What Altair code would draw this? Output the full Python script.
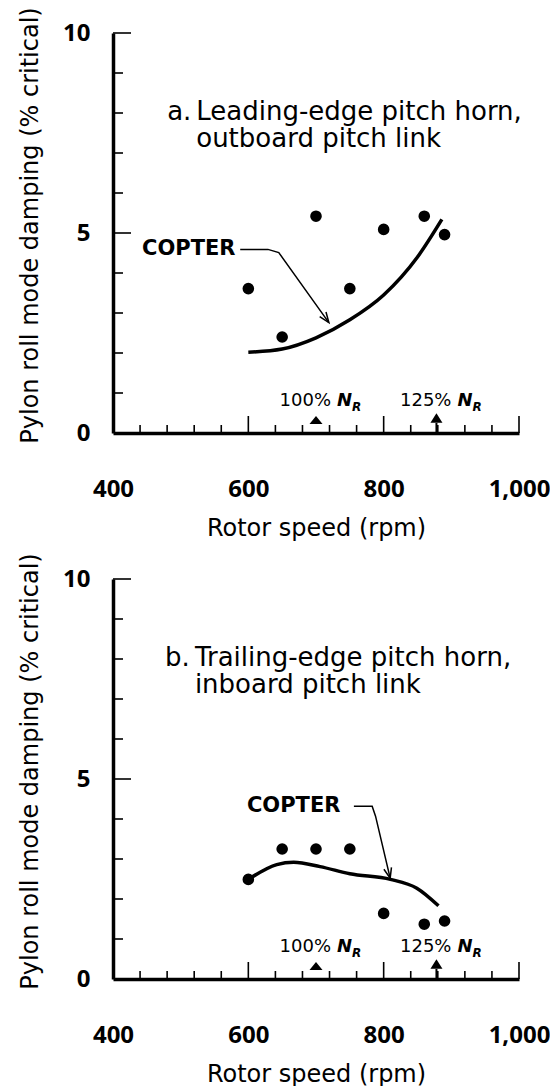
import altair as alt
import pandas as pd

# ---------------- data ----------------
# panel a: leading-edge pitch horn, outboard pitch link
test_a_rpm = [600, 650, 700, 750, 800, 860, 890]
test_a_damp = [3.61, 2.40, 5.42, 3.61, 5.09, 5.42, 4.96]
copter_a_rpm = [600, 650, 700, 750, 800, 850, 886]
copter_a_damp = [2.02, 2.10, 2.38, 2.83, 3.45, 4.40, 5.34]

# panel b: trailing-edge pitch horn, inboard pitch link
test_b_rpm = [600, 650, 700, 750, 800, 860, 890]
test_b_damp = [2.49, 3.25, 3.25, 3.25, 1.64, 1.37, 1.45]
copter_b_rpm = [600, 642, 667, 706, 750, 810, 849, 881]
copter_b_damp = [2.49, 2.86, 2.92, 2.81, 2.63, 2.49, 2.27, 1.83]

# axes
x_label_values = [400, 600, 800, 1000]
y_label_values = [0, 5, 10]
x_ticks_minor = [440, 480, 520, 560, 640, 680, 720, 760, 840, 880, 920, 960]
x_ticks_major = [600, 800, 1000]
y_ticks_minor = [1, 2, 3, 4, 6, 7, 8, 9]
y_ticks_major = [5, 10]

# rotor-speed markers (100 % and 125 % N_R)
nr_rpm = [700, 878]
nr_label = ["100%", "125%"]

# annotation anchors (data units)
leader_a_rpm = [588, 629, 645, 719]
leader_a_damp = [4.59, 4.59, 4.51, 2.76]
leader_b_rpm = [756, 783, 788, 809.6]
leader_b_damp = [4.32, 4.32, 4.07, 2.52]
copter_label_a = (512, 4.59)
copter_label_b = (667, 4.32)
caption_a = ["a.", "Leading-edge pitch horn,\n outboard pitch link"]
caption_b = ["b.", "Trailing-edge pitch horn,\n inboard pitch link"]
caption_a_rpm = [480, 523]
caption_b_rpm = [477, 521]
caption_damp = [7.83, 7.83]

# ---------------- chart ----------------
W, H = 406, 400
XS = alt.Scale(domain=[400, 1000], nice=False, zero=False)
YS = alt.Scale(domain=[0, 10], nice=False, zero=False)
AX = alt.Axis(values=x_label_values, format=",.0f", title="Rotor speed (rpm)",
              labelPadding=44, titlePadding=15, labelFlush=False, labelOverlap=False)
AY = alt.Axis(values=y_label_values, title="Pylon roll mode damping (% critical)",
              labelPadding=23, titlePadding=20, titleY=192,
              labelFlush=False, labelOverlap=False)

VTICK = "M 0 0 L 0 -1"   # vertical stroke, pointing up from the anchor
HTICK = "M 0 0 L 1 0"    # horizontal stroke, pointing right from the anchor


def X(f):
    return alt.X(f, type="quantitative", scale=XS, axis=AX)


def Y(f):
    return alt.Y(f, type="quantitative", scale=YS, axis=AY)


def tick_layer(xs, ys, shape, length):
    return (alt.Chart(pd.DataFrame({"rpm": xs, "d": ys}))
            .mark_point(shape=shape, filled=False, size=(2 * length) ** 2,
                        strokeWidth=1.6, color="black", opacity=1)
            .encode(x=X("rpm"), y=Y("d")))


def panel(t_rpm, t_damp, c_rpm, c_damp, l_rpm, l_damp, arrow_angle,
          copter_pos, caption, cap_rpm):
    layers = [
        tick_layer(x_ticks_minor, [0] * len(x_ticks_minor), VTICK, 8),
        tick_layer(x_ticks_major, [0] * len(x_ticks_major), VTICK, 17),
        tick_layer([400] * len(y_ticks_minor), y_ticks_minor, HTICK, 10),
        tick_layer([400] * len(y_ticks_major), y_ticks_major, HTICK, 18),
    ]
    # COPTER curve
    layers.append(alt.Chart(pd.DataFrame({"rpm": c_rpm, "d": c_damp}))
                  .mark_line(color="black", strokeWidth=3.5, interpolate="monotone")
                  .encode(x=X("rpm"), y=Y("d")))
    # test points
    layers.append(alt.Chart(pd.DataFrame({"rpm": t_rpm, "d": t_damp}))
                  .mark_point(shape="circle", filled=True, size=135, color="black", opacity=1)
                  .encode(x=X("rpm"), y=Y("d")))
    # leader line + arrow head
    ldf = pd.DataFrame({"rpm": l_rpm, "d": l_damp, "o": list(range(len(l_rpm)))})
    layers.append(alt.Chart(ldf).mark_line(color="black", strokeWidth=1.5)
                  .encode(x=X("rpm"), y=Y("d"), order="o:Q"))
    layers.append(alt.Chart(ldf.tail(1))
                  .mark_point(shape="M -0.38 -1 L 0 0 L 0.38 -1", filled=False, size=420,
                              color="black", strokeWidth=1.5, angle=arrow_angle, opacity=1)
                  .encode(x=X("rpm"), y=Y("d")))
    # COPTER label
    layers.append(alt.Chart(pd.DataFrame({"rpm": [copter_pos[0]], "d": [copter_pos[1]], "t": ["COPTER"]}))
                  .mark_text(font="DejaVu Sans", fontSize=21, fontWeight="bold", align="center",
                             baseline="middle", color="black")
                  .encode(x=X("rpm"), y=Y("d"), text="t:N"))
    # caption (letter + two-line description)
    cdf = pd.DataFrame({"rpm": cap_rpm, "d": caption_damp, "t": caption})
    layers.append(alt.Chart(cdf)
                  .mark_text(font="DejaVu Sans", fontSize=26, align="left",
                             baseline="alphabetic", lineBreak="\n", lineHeight=27,
                             color="black")
                  .encode(x=X("rpm"), y=Y("d"), text="t:N"))
    # N_R markers
    ndf = pd.DataFrame({"rpm": nr_rpm, "d": [0, 0], "t": nr_label})
    layers.append(alt.Chart(ndf.head(1))
                  .mark_point(shape="M -1 0.6 L 1 0.6 L 0 -0.6 Z", filled=True, size=169,
                              color="black", opacity=1, yOffset=-13)
                  .encode(x=X("rpm"), y=Y("d")))
    layers.append(alt.Chart(ndf.tail(1))
                  .mark_point(shape=VTICK, filled=False, size=400, strokeWidth=2,
                              color="black", opacity=1)
                  .encode(x=X("rpm"), y=Y("d")))
    layers.append(alt.Chart(ndf.tail(1))
                  .mark_point(shape="M -1 0.8 L 1 0.8 L 0 -0.8 Z", filled=True, size=144,
                              color="black", opacity=1, yOffset=-15)
                  .encode(x=X("rpm"), y=Y("d")))
    layers.append(alt.Chart(ndf)
                  .mark_text(font="DejaVu Sans", fontSize=18, align="right", baseline="alphabetic",
                             dx=15, dy=-27, color="black")
                  .encode(x=X("rpm"), y=Y("d"), text="t:N"))
    layers.append(alt.Chart(ndf.assign(t="N"))
                  .mark_text(font="DejaVu Sans", fontSize=18, fontWeight="bold", fontStyle="italic",
                             align="left", baseline="alphabetic", dx=21, dy=-27, color="black")
                  .encode(x=X("rpm"), y=Y("d"), text="t:N"))
    layers.append(alt.Chart(ndf.assign(t="R"))
                  .mark_text(font="DejaVu Sans", fontSize=12, fontWeight="bold", fontStyle="italic",
                             align="left", baseline="alphabetic", dx=36, dy=-22, color="black")
                  .encode(x=X("rpm"), y=Y("d"), text="t:N"))
    return alt.layer(*layers).properties(width=W, height=H)


pa = panel(test_a_rpm, test_a_damp, copter_a_rpm, copter_a_damp,
           leader_a_rpm, leader_a_damp, 324, copter_label_a, caption_a, caption_a_rpm)
pb = panel(test_b_rpm, test_b_damp, copter_b_rpm, copter_b_damp,
           leader_b_rpm, leader_b_damp, 346, copter_label_b, caption_b, caption_b_rpm)

chart = (
    alt.vconcat(pa, pb, spacing=146, bounds="flush")
    .properties(padding={"left": 18, "top": 6, "right": 0, "bottom": 0}, background="white")
    .configure_view(stroke=None)
    .configure_axis(
        labelFont="Open Sans", labelFontWeight="bold", labelFontSize=24, labelColor="black",
        titleFont="DejaVu Sans", titleFontSize=24, titleFontWeight="normal", titleColor="black",
        domainColor="black", domainWidth=3.5, ticks=False, grid=False,
    )
)

chart.save("out.html", embed_options={"renderer": "svg", "actions": False})
